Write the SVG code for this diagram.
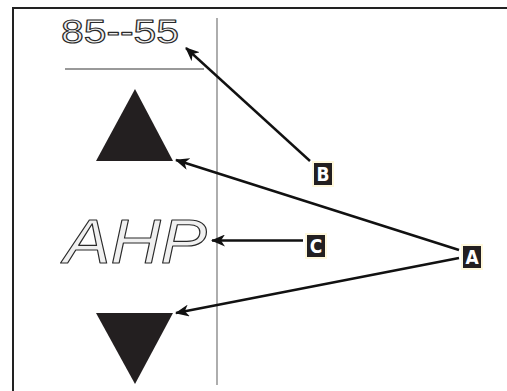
<svg xmlns="http://www.w3.org/2000/svg" width="507" height="391" viewBox="0 0 507 391">
  <defs>
    <style>
      .lcd { font-family: "Liberation Sans", "DejaVu Sans", sans-serif; fill: #f0f0f0; stroke: #2a2a2a; stroke-width: 1.1; stroke-linejoin: round; }
      .tag rect { fill: #231f20; stroke: #fff8dc; stroke-width: 2; }
      .tag text { font-family: "Liberation Sans Narrow", "DejaVu Sans Condensed", "Liberation Sans", sans-serif; font-weight: bold; font-size: 19px; fill: #fff; text-anchor: middle; }
      .conn line { stroke: #111; stroke-width: 2.4; marker-end: url(#ah); }
      .tri { fill: #231f20; }
    </style>
    <marker id="ah" viewBox="0 0 14 12" refX="13" refY="6" markerWidth="14" markerHeight="12" markerUnits="userSpaceOnUse" orient="auto">
      <path d="M0,0 L14,6 L0,12 L4,6 z" fill="#111"/>
    </marker>
  </defs>
  <rect width="507" height="391" fill="#fff"/>

  <g id="frame">
    <line x1="12" y1="8" x2="507" y2="8" stroke="#222" stroke-width="2.2"/>
    <line x1="13" y1="7" x2="13" y2="391" stroke="#222" stroke-width="2"/>
    <line x1="217" y1="18" x2="217" y2="385" stroke="#777" stroke-width="1.2"/>
    <line x1="65" y1="69" x2="204" y2="69" stroke="#777" stroke-width="1.4"/>
  </g>

  <g id="display-top">
    <text class="lcd" x="61" y="43" font-size="34" textLength="118" lengthAdjust="spacingAndGlyphs">85--55</text>
  </g>

  <g id="up-arrow">
    <polygon class="tri" points="135,89 173,161 96,161"/>
  </g>

  <g id="display-mode">
    <text class="lcd" x="64" y="263" font-size="63" font-style="italic" textLength="143" lengthAdjust="spacingAndGlyphs">AHP</text>
  </g>

  <g id="down-arrow">
    <polygon class="tri" points="96,313 173,313 135,384"/>
  </g>

  <g id="connectors" class="conn">
    <line x1="310" y1="161" x2="186" y2="48"/>
    <line x1="459" y1="250" x2="176" y2="160"/>
    <line x1="459" y1="258" x2="176" y2="313"/>
    <line x1="303" y1="240.5" x2="212" y2="240.5"/>
  </g>

  <g id="label-B" class="tag">
    <rect x="313" y="162" width="20" height="24"/>
    <text x="323" y="181">B</text>
  </g>
  <g id="label-C" class="tag">
    <rect x="306" y="234" width="20" height="24"/>
    <text x="316" y="253">C</text>
  </g>
  <g id="label-A" class="tag">
    <rect x="462" y="245" width="20" height="24"/>
    <text x="472" y="264">A</text>
  </g>
</svg>
